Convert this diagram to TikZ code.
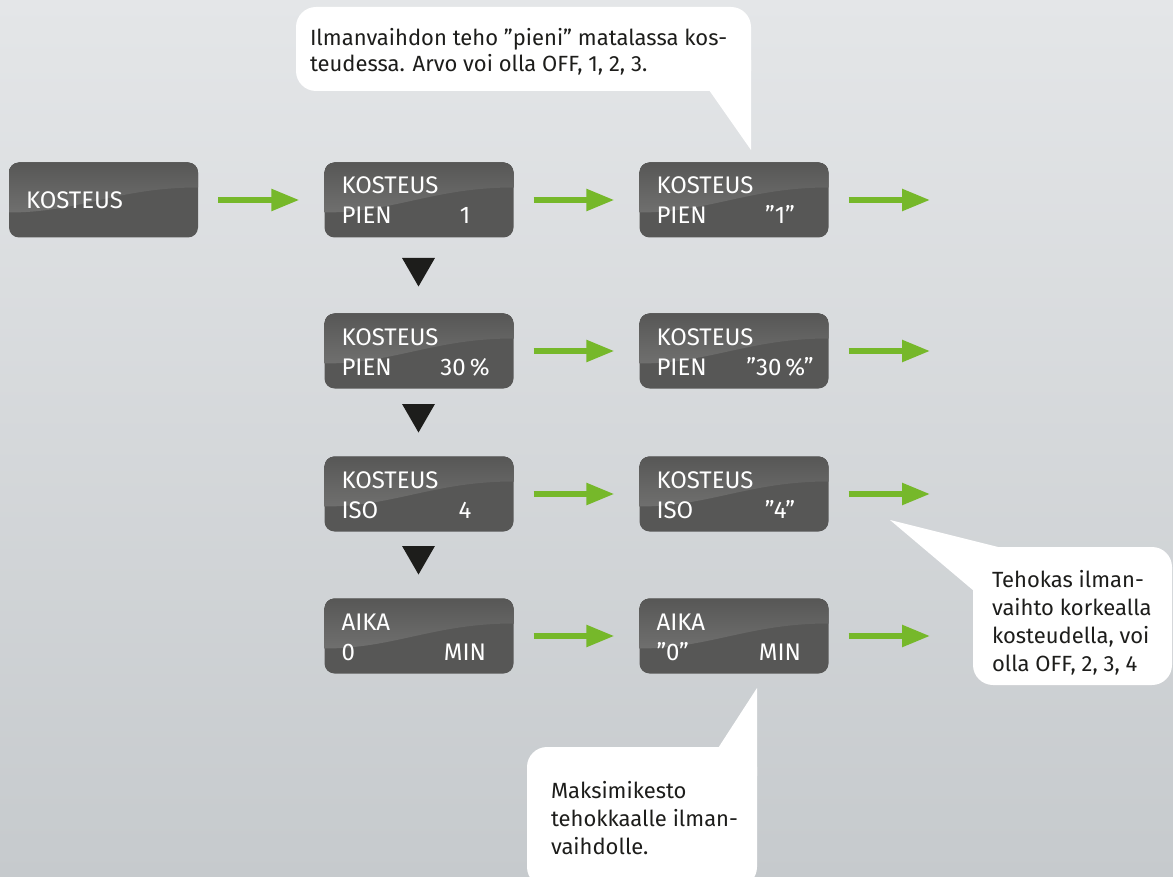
\documentclass[tikz,border=0pt]{standalone}
\usepackage{fontspec}
\setmainfont{Fira Sans}
\usetikzlibrary{arrows.meta,calc,shapes.geometric,positioning}

\definecolor{bgtop}{HTML}{E4E6E8}
\definecolor{bgbot}{HTML}{C6CACD}
\definecolor{lcdgrey}{HTML}{575756}
\definecolor{lcdshine}{HTML}{7C7C7B}
\definecolor{flowgreen}{HTML}{76B82A}
\definecolor{inkgrey}{HTML}{1D1D1B}

\tikzset{
	lcd/.style={rounded corners=10pt, fill=lcdgrey, minimum width=189pt, minimum height=75pt, inner sep=0pt,
		path picture={\fill[sharp corners, top color=lcdgrey, bottom color=lcdshine]
			(path picture bounding box.north west) -- (path picture bounding box.north east)
			-- ([yshift=-25pt]path picture bounding box.north east)
			.. controls +(-80pt,0pt) and +(70pt,0pt) .. ([yshift=-50pt]path picture bounding box.north west) -- cycle;}},
	lcdtxt/.style={text=white, font=\fontsize{24}{28}\selectfont, inner sep=0pt},
	flow/.style={draw=flowgreen, line width=5.5pt, -{Triangle[length=28pt,width=21pt]}},
	nexttri/.style={regular polygon, regular polygon sides=3, shape border rotate=180, minimum size=38pt, inner sep=0pt, fill=inkgrey},
	bubble/.style={fill=white, rounded corners=20pt, inner sep=0pt},
	notetxt/.style={text=inkgrey, align=left, inner sep=0pt, anchor=west}
}

\begin{document}
\begin{tikzpicture}[x=1pt,y=-1pt]
	\fill[top color=bgtop, bottom color=bgbot] (0,0) rectangle (1173,877);
	\useasboundingbox (0,0) rectangle (1173,877);

	% menu boxes
	\node[lcd] (k0) at (103.5,200) {};
	\node[lcdtxt, anchor=base west] (k0-l1) at ($(k0.west)+(17,9)$) {KOSTEUS};

	\foreach \n/\x/\y/\a/\b/\c in {s1/419/200/KOSTEUS/PIEN/1, s2/419/351/KOSTEUS/PIEN/30\,\%, s3/419/494/KOSTEUS/ISO/4, s4/419/636/AIKA/0/MIN,
		v1/734/200/KOSTEUS/PIEN/”1”, v2/734/351/KOSTEUS/PIEN/”30\,\%”, v3/734/494/KOSTEUS/ISO/”4”, v4/734/636/AIKA/”0”/MIN}
	{
		\node[lcd] (\n) at (\x,\y) {};
		\node[lcdtxt, anchor=base west] (\n-l1) at ($(\n.west)+(17,-6)$) {\a};
		\node[lcdtxt, anchor=base west] (\n-l2) at ($(\n.west)+(17,24)$) {\b};
		\node[lcdtxt, anchor=base] (\n-val) at ($(\n.center)+(46,24)$) {\c};
	}

	% steps down
	\node[nexttri] (t1) at (418.5,267.5) {};
	\node[nexttri] (t2) at (418.5,413.5) {};
	\node[nexttri] (t3) at (418.5,555.5) {};

	% arrows
	\coordinate (o1) at (930,200);
	\coordinate (o2) at (930,351);
	\coordinate (o3) at (930,494);
	\coordinate (o4) at (930,636);
	\foreach \from/\to in {k0/s1,s1/v1,s2/v2,s3/v3,s4/v4}
		\draw[flow, shorten <=20pt, shorten >=25pt] (\from.east) -- (\to.west);
	\foreach \from/\to in {v1/o1,v2/o2,v3/o3,v4/o4}
		\draw[flow, shorten <=20pt] (\from.east) -- (\to);

	% notes
	\node[bubble, minimum width=455pt, minimum height=84pt] (n1) at (523.5,49) {};
	\fill[white] (688,60) -- (751,60) -- (751,150) -- cycle;
	\node[notetxt, font=\fontsize{22}{26}\selectfont] (n1-txt) at ($(n1.west)+(14,3)$)
		{Ilmanvaihdon teho ”pieni” matalassa kos-\\teudessa. Arvo voi olla OFF, 1, 2, 3.};

	\node[bubble, minimum width=199pt, minimum height=138pt] (n2) at (1072.5,616) {};
	\fill[white] (890,520) -- (1018,552) -- (987,602) -- cycle;
	\node[notetxt, font=\fontsize{22}{28}\selectfont] (n2-txt) at ($(n2.west)+(19,7)$)
		{Tehokas ilman-\\vaihto korkealla\\kosteudella, voi\\olla OFF, 2, 3, 4};

	\node[bubble, minimum width=230pt, minimum height=140pt] (n3) at (642,817) {};
	\fill[white] (757,688) -- (700,776) -- (757,776) -- cycle;
	\node[notetxt, font=\fontsize{22}{28}\selectfont] (n3-txt) at ($(n3.west)+(24,1)$)
		{Maksimikesto\\tehokkaalle ilman-\\vaihdolle.};
\end{tikzpicture}
\end{document}
